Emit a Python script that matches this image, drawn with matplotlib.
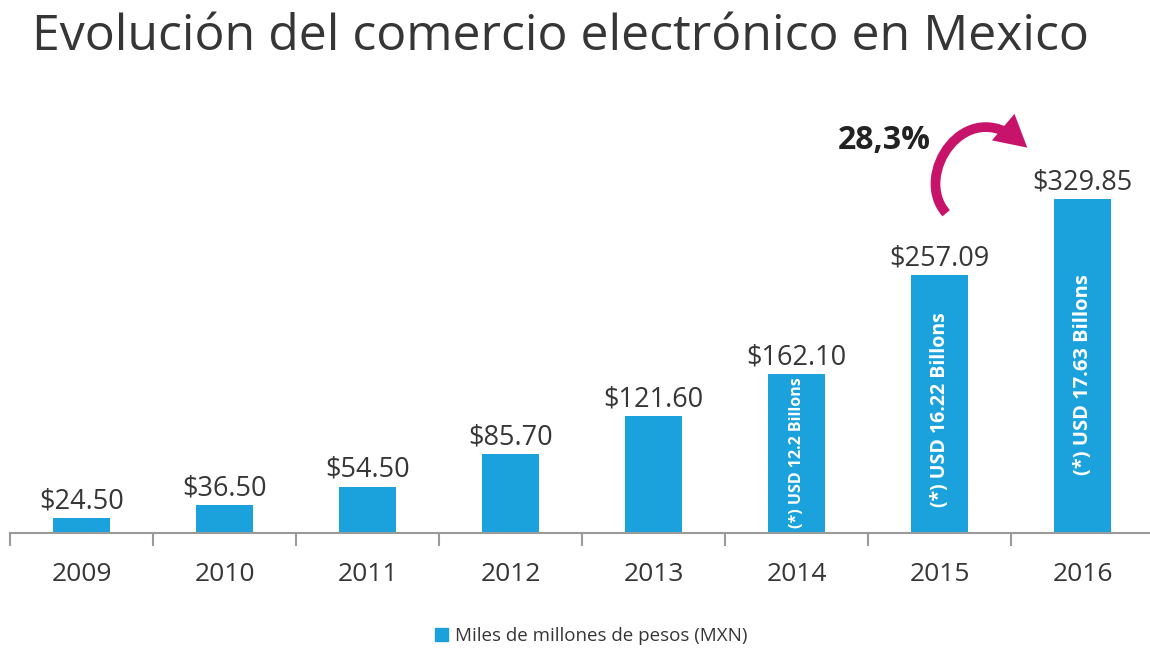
import matplotlib.pyplot as plt
from matplotlib.patches import Patch, FancyArrowPatch
from matplotlib.path import Path

plt.rcParams['font.family'] = ['Open Sans', 'DejaVu Sans']

# data
years = ["2009", "2010", "2011", "2012", "2013", "2014", "2015", "2016"]
valores = [24.50, 36.50, 54.50, 85.70, 121.60, 162.10, 257.09, 329.85]
usd = {5: "(*) USD 12.2 Billons", 6: "(*) USD 16.22 Billons", 7: "(*) USD 17.63 Billons"}
usd_size = {5: 11.5, 6: 14, 7: 14.5}
usd_pos = {5: 0.535, 6: 0.5, 7: 0.49}
crecimiento = "28,3%"

azul = "#1ba2dd"
magenta = "#c8136b"
gris = "#363636"

fig = plt.figure(figsize=(11.5, 6.53), dpi=100)
ax = fig.add_axes([10 / 1150, 120 / 653, 1140 / 1150, 443 / 653])

x = list(range(len(years)))
bars = ax.bar(x, valores, width=0.4, color=azul)

ax.set_xlim(-0.5, 7.47)
ax.set_ylim(10.1, 434)

for s in ["top", "left", "right"]:
    ax.spines[s].set_visible(False)
ax.spines["bottom"].set_color("#9a9a9a")
ax.spines["bottom"].set_linewidth(1.5)
ax.set_yticks([])

ax.set_xticks(x)
ax.set_xticklabels(years, fontsize=19, color=gris)
ax.tick_params(axis="x", length=0, pad=21)
ax.set_xticks([i - 0.5 for i in x], minor=True)
ax.tick_params(axis="x", which="minor", length=9, width=1.5, color="#9a9a9a", direction="out")

# value labels on top of each bar
for xi, v in zip(x, valores):
    ax.annotate(f"${v:.2f}", (xi, v), xytext=(0, 7), textcoords="offset points",
                ha="center", va="baseline", fontsize=19.5, color=gris)

# usd notes inside the last bars
for i, txt in usd.items():
    ax.text(x[i], valores[i] * usd_pos[i], txt, rotation=90, ha="center", va="center",
            color="white", fontweight="bold", fontsize=usd_size[i])

# growth arrow 2015 -> 2016, a round hook over the gap
curva = Path([(6.045, valores[6] + 59), (5.808, 352.8), (6.178, 429.4), (6.612, valores[7] + 49)],
             [Path.MOVETO, Path.CURVE4, Path.CURVE4, Path.CURVE4])
flecha = FancyArrowPatch(path=curva, arrowstyle="-|>,head_length=0.6,head_width=0.33",
                         mutation_scale=20, color=magenta, lw=7, shrinkA=0, shrinkB=0,
                         capstyle="butt", joinstyle="miter", clip_on=False)
ax.add_patch(flecha)
ax.text(5.61, 386, crecimiento, ha="center", va="center", fontsize=23,
        fontweight="bold", color="#222222")

fig.text(0.487, 1 - 50 / 653, "Evolución del comercio electrónico en Mexico",
         ha="center", va="baseline", fontsize=36, color=gris)

fig.legend(handles=[Patch(color=azul, label="Miles de millones de pesos (MXN)")],
           loc="center", bbox_to_anchor=(0.514, 1 - 636 / 653), frameon=False,
           fontsize=13.5, handlelength=0.7, handleheight=0.7, handletextpad=0.4,
           labelcolor=gris)

fig.savefig("out.png", dpi=100)
